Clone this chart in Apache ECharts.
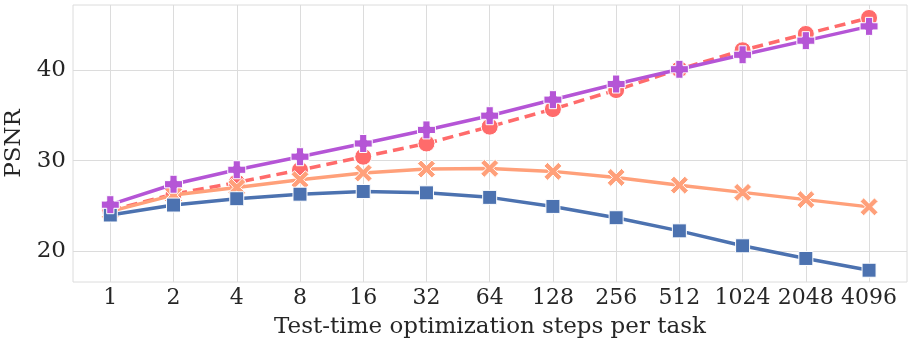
<!DOCTYPE html>
<html style="height: 100%">
<head>
    <meta charset="utf-8">
    <script src="https://cdn.jsdelivr.net/npm/echarts@6/dist/echarts.min.js"></script>
</head>
<body style="height: 100%; margin: 0; background: #fff">
<div id="container" style="width: 913px; height: 348px"></div>

<script type="text/javascript">
    // steps per task (x categories)
    var steps = ['1', '2', '4', '8', '16', '32', '64', '128', '256', '512', '1024', '2048', '4096'];
    var yTicks = [20, 30, 40];

    var blueVals   = [24.0, 25.1, 25.8, 26.3, 26.6, 26.45, 25.95, 24.95, 23.7, 22.25, 20.6, 19.2, 17.9];
    var orangeVals = [24.4, 26.2, 27.05, 27.9, 28.64, 29.08, 29.15, 28.82, 28.15, 27.3, 26.5, 25.7, 24.9];
    var redVals    = [24.5, 26.3, 27.6, 28.97, 30.44, 31.9, 33.76, 35.7, 37.8, 40.1, 42.2, 44.0, 45.77];
    var purpleVals = [25.14, 27.4, 29.0, 30.44, 31.9, 33.4, 34.97, 36.74, 38.47, 40.1, 41.7, 43.26, 44.84];

    var idx = steps.map(function (s, i) { return i; });
    function pairs(vals) {
        return vals.map(function (v, i) { return [i, v]; });
    }

    var plusPath = 'path://M3,0H7V3H10V7H7V10H3V7H0V3H3Z';
    var xPath = 'path://M0,2L2,0L5,3L8,0L10,2L7,5L10,8L8,10L5,7L2,10L0,8L3,5Z';

    var font = 'DejaVu Serif';
    var textColor = '#262626';
    var gridColor = '#dcdcdc';

    function line(name, vals, color, symbol, size, dashed, z) {
        return {
            name: name,
            type: 'line',
            data: pairs(vals),
            symbol: symbol,
            symbolSize: size,
            z: z,
            lineStyle: { color: color, width: 3.5, type: dashed ? [11, 6] : 'solid' },
            itemStyle: { color: color, borderColor: '#fff', borderWidth: 1, opacity: 1 },
            emphasis: { disabled: true }
        };
    }

    var chart = echarts.init(document.getElementById('container'));
    chart.setOption({
        animation: false,
        grid: {
            left: 73, right: 6, top: 5, bottom: 66,
            outerBoundsMode: 'none', containLabel: false,
            show: true, borderColor: gridColor, borderWidth: 1
        },
        xAxis: {
            type: 'value',
            min: -0.59,
            max: 12.6,
            name: 'Test-time optimization steps per task',
            nameLocation: 'middle',
            nameGap: 34,
            nameTextStyle: { fontFamily: font, fontSize: 23, color: textColor },
            axisLine: { show: false },
            axisTick: { show: false, customValues: idx },
            axisLabel: {
                customValues: idx,
                fontFamily: font, fontSize: 22, color: textColor, margin: 5,
                formatter: function (v) { return steps[Math.round(v)]; }
            },
            splitLine: { show: true, lineStyle: { color: gridColor, width: 1 } }
        },
        yAxis: {
            type: 'value',
            min: 16.6,
            max: 47.2,
            name: 'PSNR',
            nameLocation: 'middle',
            nameGap: 45,
            nameTextStyle: { fontFamily: font, fontSize: 23, color: textColor },
            axisLine: { show: false },
            axisTick: { show: false, customValues: yTicks },
            axisLabel: { customValues: yTicks, fontFamily: font, fontSize: 23, color: textColor, margin: 7 },
            splitLine: { show: true, lineStyle: { color: gridColor, width: 1 } }
        },
        series: [
            line('red', redVals, '#FF6B6B', 'circle', 17, true, 2),
            line('orange', orangeVals, '#FFA07A', xPath, 18, false, 3),
            line('blue', blueVals, '#4C72B0', 'rect', 14, false, 4),
            line('purple', purpleVals, '#B555D6', plusPath, 18, false, 5)
        ]
    });
</script>
</body>
</html>
